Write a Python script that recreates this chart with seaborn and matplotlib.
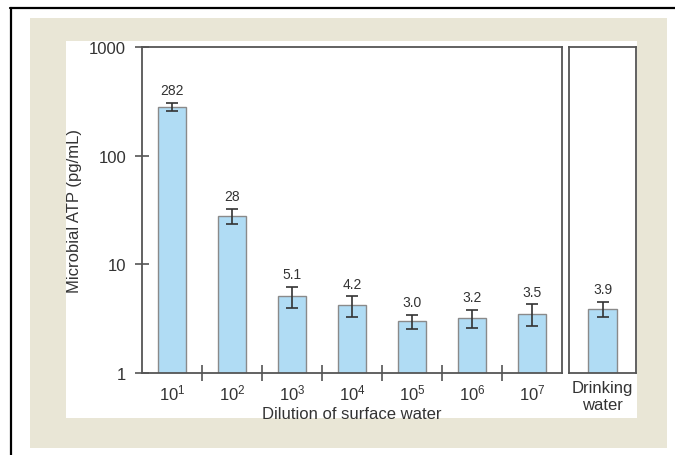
import matplotlib
matplotlib.use("Agg")
import matplotlib.pyplot as plt
import seaborn as sns
import pandas as pd
from matplotlib.patches import Rectangle
from matplotlib.lines import Line2D

# ---- data ----
dilutions = ["$\\mathregular{10^{1}}$", "$\\mathregular{10^{2}}$", "$\\mathregular{10^{3}}$",
             "$\\mathregular{10^{4}}$", "$\\mathregular{10^{5}}$", "$\\mathregular{10^{6}}$",
             "$\\mathregular{10^{7}}$"]
atp_surface = [282, 28, 5.1, 4.2, 3.0, 3.2, 3.5]
err_surface = [25, 4.5, 1.1, 0.9, 0.45, 0.6, 0.8]
labels_surface = ["282", "28", "5.1", "4.2", "3.0", "3.2", "3.5"]

drinking_cat = ["Drinking\nwater"]
atp_drinking = [3.9]
err_drinking = [0.6]
labels_drinking = ["3.9"]

y_ticks = [1, 10, 100, 1000]
y_ticklabels = ["1", "10", "100", "1000"]

# ---- style ----
sns.set_theme(style="white")
plt.rcParams["font.family"] = ["Liberation Sans", "DejaVu Sans"]
plt.rcParams["mathtext.fontset"] = "custom"
plt.rcParams["mathtext.rm"] = "Liberation Sans"
plt.rcParams["mathtext.it"] = "Liberation Sans:italic"
plt.rcParams["mathtext.bf"] = "Liberation Sans:bold"

TXT = "#333333"
SPINE = "#555555"
BAR = "#b0dcf4"
BAR_EDGE = "#8a8a8a"
BEIGE = "#e9e6d6"

W, H = 675, 456
fig = plt.figure(figsize=(W / 100, H / 100), dpi=100, facecolor="white")

def fx(px):
    return px / W

def fy(py):
    return (H - py) / H

# background panels
fig.add_artist(Rectangle((fx(30), fy(449)), (667 - 30) / W, (449 - 19) / H,
                         transform=fig.transFigure, facecolor=BEIGE, edgecolor="none", zorder=0))
fig.add_artist(Rectangle((fx(66), fy(419)), (637 - 66) / W, (419 - 42) / H,
                         transform=fig.transFigure, facecolor="white", edgecolor="none", zorder=0))
fig.add_artist(Line2D([fx(10), 1.0], [fy(9), fy(9)], transform=fig.transFigure,
                      color="black", lw=1.6, zorder=1))
fig.add_artist(Line2D([fx(10.5), fx(10.5)], [0, fy(9)], transform=fig.transFigure,
                      color="black", lw=1.6, zorder=1))

ax_top, ax_bot = 48, 374
ax = fig.add_axes([fx(142), fy(ax_bot), (562 - 142) / W, (ax_bot - ax_top) / H])
ax2 = fig.add_axes([fx(569), fy(ax_bot), (636 - 569) / W, (ax_bot - ax_top) / H])

df1 = pd.DataFrame({"dilution": dilutions, "atp": atp_surface})
df2 = pd.DataFrame({"sample": drinking_cat, "atp": atp_drinking})

for a in (ax, ax2):
    a.set_facecolor("white")

sns.barplot(data=df1, x="dilution", y="atp", ax=ax, color=BAR, edgecolor=BAR_EDGE,
            linewidth=1.0, width=0.47, saturation=1, errorbar=None)
sns.barplot(data=df2, x="sample", y="atp", ax=ax2, color=BAR, edgecolor=BAR_EDGE,
            linewidth=1.0, width=0.47, saturation=1, errorbar=None)

for a in (ax, ax2):
    a.set_yscale("log")
    a.set_ylim(1, 1000)
    for s in a.spines.values():
        s.set_visible(True)
        s.set_color(SPINE)
        s.set_linewidth(1.3)

ax.set_xlim(-0.5, len(dilutions) - 0.5)
ax2.set_xlim(-0.558, 0.558)

# error bars & value labels
xs = list(range(len(atp_surface)))
ax.errorbar(xs, atp_surface, yerr=err_surface, fmt="none", ecolor="#333333",
            elinewidth=1.2, capsize=4, capthick=1.2, zorder=5)
for x, v, e, t in zip(xs, atp_surface, err_surface, labels_surface):
    ax.annotate(t, (x, v + e), xytext=(0, 4), textcoords="offset points",
                ha="center", va="bottom", fontsize=10, color=TXT)
ax2.errorbar([0], atp_drinking, yerr=err_drinking, fmt="none", ecolor="#333333",
             elinewidth=1.2, capsize=4, capthick=1.2, zorder=5)
for x, v, e, t in zip([0], atp_drinking, err_drinking, labels_drinking):
    ax2.annotate(t, (x, v + e), xytext=(0, 4), textcoords="offset points",
                 ha="center", va="bottom", fontsize=10, color=TXT)

# y axis
ax.set_yticks(y_ticks)
ax.set_yticklabels(y_ticklabels)
ax.yaxis.set_minor_locator(matplotlib.ticker.NullLocator())
ax.tick_params(axis="y", which="major", direction="inout", length=10, width=1.2,
               color=SPINE, labelsize=12, labelcolor=TXT, pad=6.5, left=True)
ax2.set_yticks([])
ax2.yaxis.set_minor_locator(matplotlib.ticker.NullLocator())
ax2.tick_params(axis="y", which="both", left=False, labelleft=False)

# x axis: labels at bar centres, separator ticks between categories
ax.set_xticks(xs)
ax.set_xticklabels(dilutions)
ax.tick_params(axis="x", which="major", length=0, labelsize=12, labelcolor=TXT, pad=7)
ax.set_xticks([i + 0.5 for i in xs[:-1]], minor=True)
ax.tick_params(axis="x", which="minor", direction="inout", length=11, width=1.2,
               color=SPINE, bottom=True)
ax2.set_xticks([0])
ax2.set_xticklabels(drinking_cat)
ax2.tick_params(axis="x", length=0, labelsize=12, labelcolor=TXT, pad=5)

ax.set_xlabel("Dilution of surface water", fontsize=12, color=TXT)
ax.xaxis.set_label_coords(0.5, -0.1)
ax.set_ylabel("Microbial ATP (pg/mL)", fontsize=12, color=TXT)
ax.yaxis.set_label_coords(-0.142, 0.5)
ax2.set_xlabel("")
ax2.set_ylabel("")

fig.savefig("out.png", dpi=100, facecolor="white")
